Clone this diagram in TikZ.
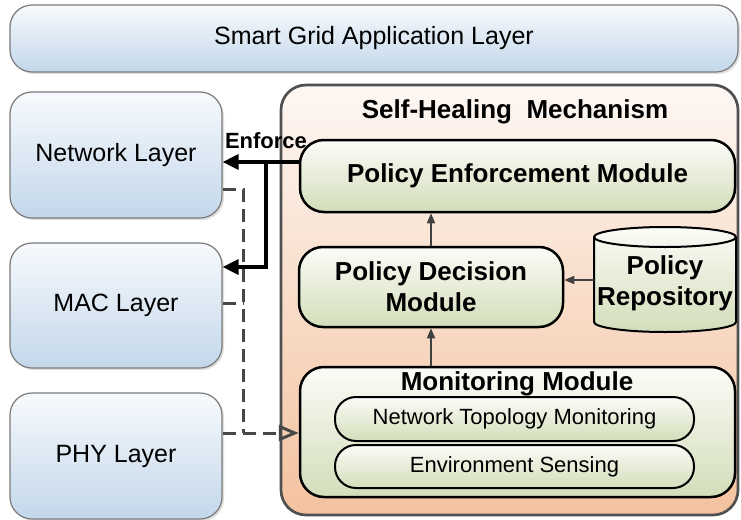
\documentclass[tikz,border=0pt]{standalone}
\usepackage{fontspec}
\setmainfont{Liberation Sans}
\usetikzlibrary{arrows.meta,shadows}
\definecolor{bluetop}{HTML}{F7FAFD}
\definecolor{bluebot}{HTML}{C3D7EA}
\definecolor{orgtop}{HTML}{FDF7F3}
\definecolor{orgbot}{HTML}{F4C29F}
\definecolor{grtop}{HTML}{FBFCF7}
\definecolor{grbot}{HTML}{D3DDBA}
\definecolor{layerline}{HTML}{7A7A7A}
\definecolor{contline}{HTML}{505050}
\definecolor{arrgray}{HTML}{404040}
\definecolor{dashgray}{HTML}{474747}
\begin{document}
\begin{tikzpicture}[x=1pt,y=1pt,
  layer/.style={draw=layerline, line width=1.2pt, rounded corners=22pt, top color=bluetop, bottom color=bluebot,
    drop shadow={shadow xshift=2pt, shadow yshift=-2pt, opacity=0.25}, font=\fontsize{25}{30}\selectfont, inner sep=0pt},
  container/.style={draw=contline, line width=2.7pt, rounded corners=25pt, top color=orgtop, bottom color=orgbot, inner sep=0pt},
  module/.style={draw=black, line width=2.5pt, rounded corners=24pt, top color=grtop, bottom color=grbot, inner sep=0pt,
    font=\fontsize{26}{31}\selectfont\bfseries, align=center},
  pill/.style={draw=black, line width=2pt, rounded corners=21pt, top color=grtop, bottom color=grbot, inner sep=0pt,
    font=\fontsize{22}{26}\selectfont},
  boldtext/.style={font=\fontsize{26}{31}\selectfont\bfseries, align=center, inner sep=0pt},
  enfarrow/.style={line width=3.5pt, -{Triangle[length=16pt,width=15pt]}},
  thinarrow/.style={draw=arrgray, line width=1.5pt, -{Triangle[length=10pt,width=8pt]}},
  dashline/.style={draw=dashgray, line width=3pt, dash pattern=on 13pt off 7pt},
]
\useasboundingbox (0,0) rectangle (741,-519);
% application layer
\node[layer, minimum width=728pt, minimum height=67pt] (app) at (374,-38.5) {Smart Grid Application Layer};
% lower layers
\node[layer, minimum width=212pt, minimum height=126pt] (net) at (116,-155) {Network Layer};
\node[layer, minimum width=212pt, minimum height=125pt] (mac) at (116,-305.5) {MAC Layer};
\node[layer, minimum width=212pt, minimum height=126pt] (phy) at (116,-456) {PHY Layer};
% container
\node[container, minimum width=457pt, minimum height=430pt] (cont) at (509.5,-300) {};
\node[boldtext] (title) at (515,-112) {Self-Healing\ \ Mechanism};
% modules
\node[module, minimum width=435pt, minimum height=72pt] (enf) at (517.5,-176) {Policy Enforcement Module};
\node[module, minimum width=264pt, minimum height=80pt] (dec) at (431,-287) {Policy Decision\\Module};
\node[module, minimum width=435pt, minimum height=130pt] (mon) at (517.5,-432) {};
\node[boldtext] (montitle) at (517,-384) {Monitoring Module};
\node[pill, minimum width=359pt, minimum height=44pt] (topo) at (514.5,-419) {Network Topology Monitoring};
\node[pill, minimum width=359pt, minimum height=43pt] (env) at (514.5,-466.5) {Environment Sensing};
% repository cylinder
\shade[top color=grtop, bottom color=grbot] (594,-237) -- (594,-322)
  arc[start angle=180, end angle=360, x radius=71pt, y radius=10pt] -- (736,-237)
  arc[start angle=0, end angle=180, x radius=71pt, y radius=10pt] -- cycle;
\draw[line width=2pt] (594,-237) -- (594,-322)
  arc[start angle=180, end angle=360, x radius=71pt, y radius=10pt] -- (736,-237)
  arc[start angle=0, end angle=180, x radius=71pt, y radius=10pt] -- cycle;
\draw[line width=2pt] (594,-237) arc[start angle=180, end angle=360, x radius=71pt, y radius=10pt];
\node[boldtext, minimum width=142pt, minimum height=86pt] (repo) at (665,-283) {Policy\\Repository};
% thin arrows
\draw[thinarrow] (dec.north) -- (dec.north |- enf.south);
\draw[thinarrow] (dec.south |- mon.north) -- (dec.south);
\draw[thinarrow] (repo.west |- 0,-280) -- (dec.east |- 0,-280);
% enforce arrows
\coordinate (ej) at (266,-162);
\coordinate (mj) at (266,-267);
\draw[enfarrow] (enf.west |- ej) -- (net.east |- ej);
\draw[enfarrow] (ej) -- (mj) -- (mac.east |- mj);
\node[font=\fontsize{22}{26}\selectfont\bfseries, inner sep=0pt] (enflabel) at (266,-141) {Enforce};
% dashed lines
\coordinate (d1) at (243,-189);
\coordinate (d2) at (243,-303);
\coordinate (d3) at (243,-433);
\draw[dashline] (net.east |- d1) -- (d1) -- (d3);
\draw[dashline] (mac.east |- d2) -- (d2);
\draw[dashline, -{Triangle[open,length=20pt,width=16pt]}] (phy.east |- d3) -- (mon.west |- d3);
\end{tikzpicture}
\end{document}
